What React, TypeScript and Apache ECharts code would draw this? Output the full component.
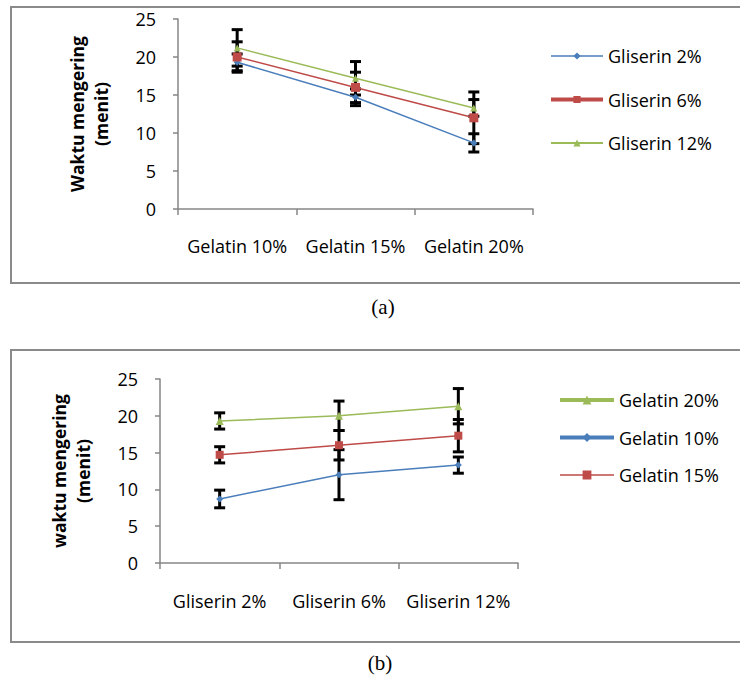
import React, { useEffect, useRef } from "react";
import * as echarts from "echarts";

const topCategories = ["Gelatin 10%", "Gelatin 15%", "Gelatin 20%"];
const gliserin2 = [19.3, 14.7, 8.7];
const gliserin2Err = [1.1, 1.1, 1.2];
const gliserin6 = [20, 16, 12];
const gliserin6Err = [2, 2, 3.4];
const gliserin12 = [21.2, 17.2, 13.3];
const gliserin12Err = [2.4, 2.2, 1.1];

const bottomCategories = ["Gliserin 2%", "Gliserin 6%", "Gliserin 12%"];
const gelatin20 = [19.3, 20, 21.3];
const gelatin20Err = [1.1, 2, 2.4];
const gelatin10 = [8.7, 12, 13.3];
const gelatin10Err = [1.2, 3.4, 1.1];
const gelatin15 = [14.7, 16, 17.3];
const gelatin15Err = [1.1, 2, 2.2];

const yTicks = { min: 0, max: 25, interval: 5 };

const BLUE = "#4A7EBB";
const RED = "#BE4B48";
const GREEN = "#9BBB59";
const AXIS = "#868686";
const FONT = "Open Sans";
const FS = 18;

function errorRender(params: any, api: any) {
  const idx = api.value(0);
  const v = api.value(1);
  const e = api.value(2);
  const hi = api.coord([idx, v + e]);
  const lo = api.coord([idx, v - e]);
  const half = 5.5;
  const style = { stroke: "#000", lineWidth: 3 };
  return {
    type: "group",
    children: [
      { type: "line", shape: { x1: hi[0], y1: hi[1], x2: lo[0], y2: lo[1] }, style },
      { type: "line", shape: { x1: hi[0] - half, y1: hi[1], x2: hi[0] + half, y2: hi[1] }, style },
      { type: "line", shape: { x1: lo[0] - half, y1: lo[1], x2: lo[0] + half, y2: lo[1] }, style },
    ],
  };
}

function lineSeries(name: string, data: number[], color: string, symbol: string, size: number, gi: number) {
  return {
    type: "line",
    name,
    data,
    xAxisIndex: gi,
    yAxisIndex: gi,
    symbol,
    symbolSize: size,
    z: 3,
    itemStyle: { color },
    lineStyle: { color, width: 1.5 },
  };
}

function errSeries(vals: number[], errs: number[], gi: number) {
  return {
    type: "custom",
    xAxisIndex: gi,
    yAxisIndex: gi,
    z: 2,
    renderItem: errorRender,
    encode: { x: 0, y: 1 },
    data: vals.map((v, i) => [i, v, errs[i]]),
  };
}

function xAxis(cats: string[], gi: number, margin: number) {
  return {
    type: "category",
    gridIndex: gi,
    data: cats,
    boundaryGap: true,
    axisLine: { lineStyle: { color: AXIS, width: 1.5 } },
    axisTick: { show: true, length: 6, lineStyle: { color: AXIS, width: 1.5 } },
    axisLabel: { color: "#000", fontFamily: FONT, fontSize: FS, margin, interval: 0 },
  };
}

function yAxis(name: string, gi: number) {
  return {
    type: "value",
    gridIndex: gi,
    ...yTicks,
    name,
    nameLocation: "middle",
    nameRotate: 90,
    nameGap: 65,
    nameTextStyle: { color: "#000", fontFamily: FONT, fontSize: 17.5, fontWeight: "bold", lineHeight: 24, align: "center" },
    axisLine: { show: true, lineStyle: { color: AXIS, width: 1.5 } },
    axisTick: { show: true, length: 5, lineStyle: { color: AXIS, width: 1.5 } },
    axisLabel: { color: "#000", fontFamily: FONT, fontSize: FS, margin: 22 },
    splitLine: { show: false },
  };
}

export default function App() {
  const ref = useRef<HTMLDivElement>(null);
  useEffect(() => {
    if (!ref.current) return;
    const chart = echarts.init(ref.current, null, { renderer: "svg" });
    chart.setOption({
      animation: false,
      backgroundColor: "#fff",
      grid: [
        { left: 178, right: 207, top: 19, bottom: 469 },
        { left: 160, right: 222, top: 379, bottom: 115 },
      ],
      xAxis: [xAxis(topCategories, 0, 28), xAxis(bottomCategories, 1, 29)],
      yAxis: [yAxis("Waktu mengering\n(menit)", 0), yAxis("waktu mengering\n(menit)", 1)],
      legend: [
        {
          orient: "vertical",
          left: 544,
          top: 42,
          itemWidth: 52,
          itemHeight: 9,
          itemGap: 25.5,
          textStyle: { color: "#000", fontFamily: FONT, fontSize: FS, lineHeight: 18 },
          data: [
            { name: "Gliserin 2%", lineStyle: { width: 1.5 } },
            { name: "Gliserin 6%", lineStyle: { width: 4 } },
            { name: "Gliserin 12%", lineStyle: { width: 2 } },
          ],
        },
        {
          orient: "vertical",
          left: 553,
          top: 386,
          itemWidth: 54,
          itemHeight: 11,
          itemGap: 19.5,
          textStyle: { color: "#000", fontFamily: FONT, fontSize: FS, lineHeight: 18 },
          data: [
            { name: "Gelatin 20%", lineStyle: { width: 4 } },
            { name: "Gelatin 10%", lineStyle: { width: 4 } },
            { name: "Gelatin 15%", lineStyle: { width: 1.5 } },
          ],
        },
      ],
      graphic: [
        { type: "rect", shape: { x: 11, y: 7, width: 760, height: 276 }, style: { fill: "none", stroke: "#8a8a8a", lineWidth: 2 }, z: -1 },
        { type: "rect", shape: { x: 11, y: 350, width: 760, height: 292 }, style: { fill: "none", stroke: "#8a8a8a", lineWidth: 2 }, z: -1 },
        { type: "text", x: 383, y: 307, style: { text: "(a)", fill: "#000", font: "21px 'Liberation Serif'", textAlign: "center", textVerticalAlign: "middle" } },
        { type: "text", x: 380, y: 663, style: { text: "(b)", fill: "#000", font: "21px 'Liberation Serif'", textAlign: "center", textVerticalAlign: "middle" } },
      ],
      series: [
        errSeries(gliserin2, gliserin2Err, 0),
        errSeries(gliserin6, gliserin6Err, 0),
        errSeries(gliserin12, gliserin12Err, 0),
        lineSeries("Gliserin 2%", gliserin2, BLUE, "diamond", 7, 0),
        lineSeries("Gliserin 6%", gliserin6, RED, "rect", 9, 0),
        lineSeries("Gliserin 12%", gliserin12, GREEN, "triangle", 7, 0),
        errSeries(gelatin20, gelatin20Err, 1),
        errSeries(gelatin10, gelatin10Err, 1),
        errSeries(gelatin15, gelatin15Err, 1),
        lineSeries("Gelatin 20%", gelatin20, GREEN, "triangle", 8, 1),
        lineSeries("Gelatin 10%", gelatin10, BLUE, "diamond", 7, 1),
        lineSeries("Gelatin 15%", gelatin15, RED, "rect", 8, 1),
      ],
    });
    return () => chart.dispose();
  }, []);
  return <div ref={ref} style={{ position: "absolute", left: 0, top: 0, width: 740, height: 678 }} />;
}
